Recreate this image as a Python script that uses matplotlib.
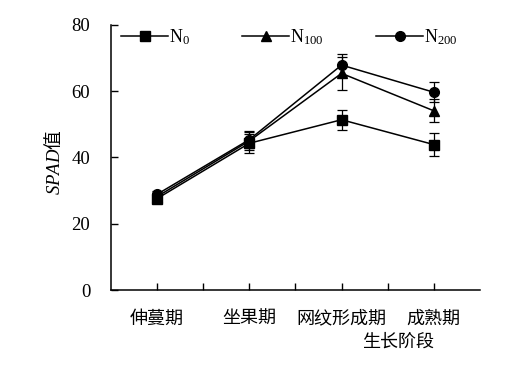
import numpy as np
import matplotlib
matplotlib.use("Agg")
import matplotlib.pyplot as plt

plt.rcParams['font.family'] = ['Liberation Serif', 'Noto Sans CJK SC']
plt.rcParams['mathtext.fontset'] = 'custom'
plt.rcParams['mathtext.rm'] = 'Liberation Serif'
plt.rcParams['mathtext.it'] = 'Liberation Serif:italic'

# growth stages
stages = ['伸蔓期', '坐果期', '网纹形成期', '成熟期']
series = ['N$_0$', 'N$_{100}$', 'N$_{200}$']

n0 = [27.6, 44.3, 51.4, 43.9]
n100 = [28.2, 45.0, 65.4, 54.1]
n200 = [28.9, 45.4, 67.9, 59.7]

n0_err = [1.0, 2.8, 3.0, 3.5]
n100_err = [1.0, 2.8, 5.0, 3.5]
n200_err = [1.0, 2.5, 3.3, 3.0]

markers = ['s', '^', 'o']
msizes = [7, 7.5, 7]

fig = plt.figure(figsize=(5.06, 3.73), dpi=100)
ax = fig.add_axes([0.2194, 0.2225, 0.729, 0.7105])

x = np.arange(len(stages))
handles = []
for vals, errs, lab, mk, ms in zip([n0, n100, n200], [n0_err, n100_err, n200_err],
                                   series, markers, msizes):
    c = ax.errorbar(x, vals, yerr=errs, color='black', lw=1.1, marker=mk, ms=ms,
                    capsize=3.5, elinewidth=0.9, capthick=0.9, label=lab)
    handles.append(c.lines[0])

ax.set_xlim(-0.5, 3.5)
ax.set_ylim(0, 80)
ax.set_yticks([0, 20, 40, 60, 80])
ax.set_xticks(np.arange(0, 3.01, 0.5))
ax.set_xticklabels(['' if i % 2 else stages[i // 2] for i in range(7)])
ax.tick_params(axis='x', direction='in', length=5, width=1, pad=14, labelsize=13)
ax.tick_params(axis='y', direction='in', length=5, width=1, pad=15, labelsize=13.5)
for lbl in ax.get_xticklabels():
    lbl.set_family(['Noto Sans CJK SC'])

for s in ['top', 'right']:
    ax.spines[s].set_visible(False)
for s in ['left', 'bottom']:
    ax.spines[s].set_linewidth(1.1)

ax.set_xlabel('生长阶段', fontsize=13, family=['Noto Sans CJK SC'])
ax.xaxis.set_label_coords(0.778, -0.16)

fig.text(0.108, 0.565, r'$\it{SPAD}$值', rotation=90, fontsize=13.5,
         ha='center', va='center', family=['Noto Sans CJK SC'])

ax.legend(handles=handles, labels=series, loc='center',
          bbox_to_anchor=(0.572, 0.901), bbox_transform=fig.transFigure,
          ncol=3, frameon=False, fontsize=13, handlelength=2.6,
          handletextpad=0.05, columnspacing=2.9)

fig.savefig('out.png', dpi=100)
